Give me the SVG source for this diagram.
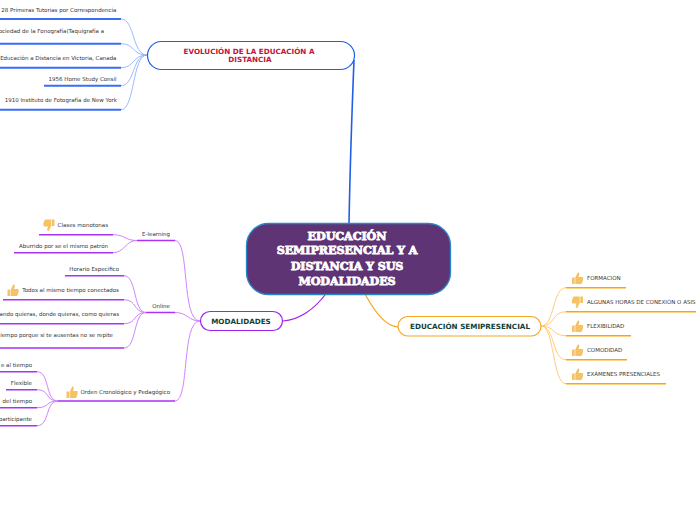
<svg xmlns="http://www.w3.org/2000/svg" width="696" height="520" viewBox="0 0 696 520">
<style>
text{font-family:"DejaVu Sans","Liberation Sans",sans-serif;fill:#333;font-size:5.5px}
.r{text-anchor:end}
.c{text-anchor:middle}
.n{font-weight:bold;font-size:7.2px;text-anchor:middle;fill:#123f38}
.t{font-family:"DejaVu Serif","Liberation Serif",serif;font-weight:bold;font-size:11.2px;letter-spacing:-.1px;text-anchor:middle;fill:#fff;stroke:#fff;stroke-width:.8}
path{fill:none}
.bm{stroke:#1f5fe8;stroke-width:1.6}
.bl{stroke:#8fb2ff;stroke-width:.9}
.bu{stroke:#3b6ef5;stroke-width:2}
.pm{stroke:#a020f0;stroke-width:1.2}
.pl{stroke:#cf85ff;stroke-width:1}
.pu{stroke:#a832f5;stroke-width:1.6}
.om{stroke:#f5a623;stroke-width:1.2}
.ol{stroke:#ffcb7a;stroke-width:1}
.ou{stroke:#ffa500;stroke-width:1.6}
.i{fill:#f5c266;stroke:none}
</style>
<defs>
<g id="up"><path class="i" d="M-5.5 -1H-2.8V5.5H-5.5ZM-2.2 -1L0.2 -6C1.6 -6.3 2.2 -5 1.6 -3.3L1.1 -1.4H4.8C5.9 -1.3 5.9 0 5.4 .4C5.9 1.1 5.7 2.1 5 2.4C5.4 3.3 5 4 4.4 4.3C4.5 5.2 4 5.5 3.3 5.5H-2.2Z"/></g>
<g id="down"><use href="#up" transform="scale(-1,-1)"/></g>
</defs>
<g id="connectors">
<path class="bm" d="M349 223C350 170 352 110 354 60"/>
<path class="pm" d="M283 321C300 320 315 308 325 295"/>
<path class="om" d="M365 294C375 312 385 326 398 327"/>
<path class="bl" d="M147 55C132 55 135 19 121 19"/>
<path class="bl" d="M147 55C132 55 135 43.7 121 43.7"/>
<path class="bl" d="M147 55C132 55 135 67.7 121 67.7"/>
<path class="bl" d="M147 55C132 55 135 85.7 121 85.7"/>
<path class="bl" d="M147 55C132 55 135 109.7 121 109.7"/>
<path class="bu" d="M0 19H121M0 43.7H121M0 67.7H121M44 85.7H121M0 109.7H121"/>
<path class="pl" d="M200 321C181 321 190 240.5 175 240.5"/>
<path class="pl" d="M200 321C188 321 188 312.5 175 312.5"/>
<path class="pl" d="M200 321C181 321 190 401 175 401"/>
<path class="pu" d="M137 240.5H175M146 312.5H175M58 401H175"/>
<path class="pl" d="M137 240.5C125 240.5 125 234.7 113 234.7"/>
<path class="pl" d="M137 240.5C125 240.5 125 252.7 113 252.7"/>
<path class="pl" d="M146 312.5C133 312.5 137 275.7 124 275.7"/>
<path class="pl" d="M146 312.5C133 312.5 137 299.7 124 299.7"/>
<path class="pl" d="M146 312.5C133 312.5 137 323.7 124 323.7"/>
<path class="pl" d="M146 312.5C133 312.5 137 348 124 348"/>
<path class="pu" d="M39 234.7H113M14 252.7H113M65 275.7H124M3 299.7H124M0 323.7H124M0 348H124"/>
<path class="pl" d="M58 401C45 401 50 371.7 37 371.7"/>
<path class="pl" d="M58 401C45 401 50 389.7 37 389.7"/>
<path class="pl" d="M58 401C45 401 50 407.7 37 407.7"/>
<path class="pl" d="M58 401C45 401 50 425.7 37 425.7"/>
<path class="pu" d="M0 371.7H37M6 389.7H37M0 407.7H37M0 425.7H37"/>
<path class="ol" d="M541 326C555 326 552 287.7 566 287.7"/>
<path class="ol" d="M541 326C555 326 552 311.7 566 311.7"/>
<path class="ol" d="M541 326C555 326 552 335.7 566 335.7"/>
<path class="ol" d="M541 326C555 326 552 359.7 566 359.7"/>
<path class="ol" d="M541 326C555 326 552 383.7 566 383.7"/>
<path class="ou" d="M566 287.7H626M566 311.7H696M566 335.7H631M566 359.7H627M566 383.7H666"/>
</g>
<g id="root"><rect x="246.5" y="223.5" width="204" height="71" rx="22" fill="#5e3475" stroke="#2a86c8" stroke-width="1.3"/>
<text class="t" x="347" y="240">EDUCACIÓN</text><text class="t" x="347" y="254">SEMIPRESENCIAL Y A</text><text class="t" x="347" y="270">DISTANCIA Y SUS</text><text class="t" x="347" y="285">MODALIDADES</text></g>
<g id="evolucion"><rect x="147.5" y="41.5" width="207" height="28" rx="14" fill="#fff" stroke="#1f5fe8" stroke-width="1.2"/>
<text class="n" style="fill:#c0143c" x="249" y="54">EVOLUCIÓN DE LA EDUCACIÓN A</text><text class="n" style="fill:#c0143c" x="250" y="62">DISTANCIA</text></g>
<g id="modalidades"><rect x="200.5" y="311.5" width="82" height="19" rx="9.5" fill="#fff" stroke="#a020f0" stroke-width="1.2"/><text class="n" x="241" y="323.5">MODALIDADES</text></g>
<g id="semipresencial"><rect x="398" y="316.5" width="143" height="19.5" rx="9.75" fill="#fff" stroke="#f5a623" stroke-width="1.2"/><text class="n" x="470" y="329">EDUCACIÓN SEMIPRESENCIAL</text></g>
<g id="ev1"><text class="r" x="116.5" y="12">28 Primeras Tutorias por Correspondencia</text></g>
<g id="ev2"><text class="r" x="104" y="33">ociedad de la Fonografía(Taquigrafía a</text></g>
<g id="ev3"><text class="r" x="116.5" y="60">Educación a Distancia en Victoria, Canada</text></g>
<g id="ev4"><text class="r" x="116.5" y="81">1956 Home Study Consil</text></g>
<g id="ev5"><text class="r" x="117" y="102">1910 Instituto de Fotografía de New York</text></g>
<g id="elearning"><text class="c" x="156" y="236">E-learning</text></g>
<g id="m1"><use href="#down" x="49" y="225"/><text class="r" x="108" y="227">Clases monotonas</text></g>
<g id="m2"><text class="r" x="108" y="248">Aburrido por se el mismo patrón</text></g>
<g id="online"><text class="c" x="161" y="308">Online</text></g>
<g id="o1"><text class="r" x="119" y="271">Horario Especifico</text></g>
<g id="o2"><use href="#up" x="13" y="290.5"/><text class="r" x="119" y="292">Todos al mismo tiempo conectados</text></g>
<g id="o3"><text class="r" x="119" y="316">ando quieras, donde quieras, como quieras</text></g>
<g id="o4"><text class="r" x="113" y="337">iempo porque si te ausentas no se repite</text></g>
<g id="orden"><use href="#up" x="72" y="392.5"/><text class="r" x="170" y="394">Orden Cronológico y Pedagógico</text></g>
<g id="d1"><text class="r" x="32" y="367">e al tiempo</text></g>
<g id="d2"><text class="r" x="32" y="385">Flexible</text></g>
<g id="d3"><text class="r" x="32" y="403">del tiempo</text></g>
<g id="d4"><text class="r" x="32" y="421">participante</text></g>
<g id="s1"><use href="#up" x="577.5" y="278.5"/><text x="587" y="280">FORMACIÓN</text></g>
<g id="s2"><use href="#down" x="577.5" y="302"/><text x="587" y="304">ALGUNAS HORAS DE CONEXIÓN O ASIS</text></g>
<g id="s3"><use href="#up" x="577.5" y="326.5"/><text x="587" y="328">FLEXIBILIDAD</text></g>
<g id="s4"><use href="#up" x="577.5" y="350.5"/><text x="587" y="352">COMODIDAD</text></g>
<g id="s5"><use href="#up" x="577.5" y="374.5"/><text x="587" y="376">EXÁMENES PRESENCIALES</text></g>
</svg>
